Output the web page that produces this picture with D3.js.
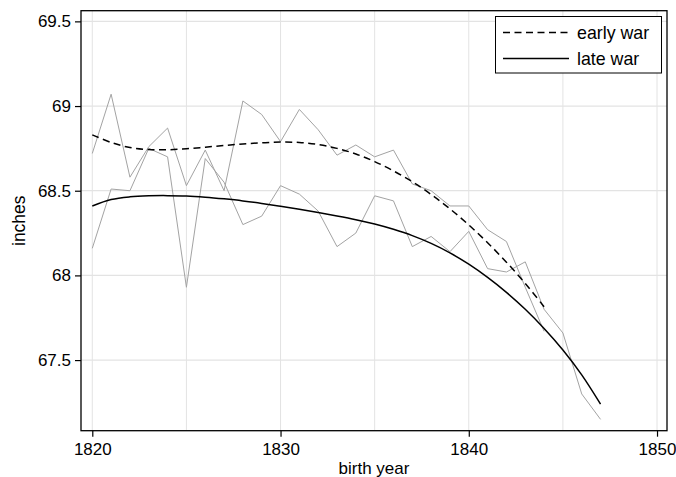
<!DOCTYPE html>
<html>
<head>
<meta charset="utf-8">
<script src="https://cdn.jsdelivr.net/npm/d3@7"></script>
<style>
  body { margin: 0; background: #fff; }
  text { font-family: "Liberation Sans", Arial, sans-serif; }
</style>
</head>
<body>
<div id="chart"></div>
<script>
// raw yearly means
var earlyYears = d3.range(1820, 1845);
var earlyRaw = [68.72, 69.07, 68.58, 68.76, 68.87, 68.53, 68.74, 68.50, 69.03, 68.95,
  68.79, 68.98, 68.86, 68.71, 68.77, 68.70, 68.74, 68.54, 68.50, 68.41,
  68.41, 68.27, 68.20, 67.93, 67.67];
var lateYears = d3.range(1820, 1848);
var lateRaw = [68.16, 68.51, 68.50, 68.75, 68.70, 67.93, 68.69, 68.55, 68.30, 68.35,
  68.53, 68.48, 68.38, 68.17, 68.25, 68.47, 68.44, 68.17, 68.23, 68.14,
  68.26, 68.04, 68.02, 68.08, 67.80, 67.66, 67.30, 67.15];

// smoothed curves
var earlySmooth = [68.83, 68.785, 68.755, 68.743, 68.742, 68.748, 68.757, 68.767, 68.776, 68.783,
  68.787, 68.785, 68.773, 68.75, 68.717, 68.672, 68.617, 68.553, 68.478, 68.393,
  68.298, 68.193, 68.078, 67.953, 67.815];
var lateSmooth = [68.41, 68.448, 68.464, 68.47, 68.471, 68.469, 68.462, 68.452, 68.44, 68.425,
  68.408, 68.39, 68.371, 68.351, 68.329, 68.303, 68.272, 68.235, 68.189, 68.133,
  68.066, 67.988, 67.90, 67.80, 67.687, 67.56, 67.413, 67.24];

var xTicks = [1820, 1830, 1840, 1850];
var xGrid = [1820, 1825, 1830, 1835, 1840, 1845, 1850];
var yTicks = [67.5, 68, 68.5, 69, 69.5];

var svgWidth = 676, svgHeight = 477;
var margin = {top: 10.7, right: 9, bottom: 46.3, left: 81};
var width = svgWidth - margin.left - margin.right;
var height = svgHeight - margin.top - margin.bottom;

var svg = d3.select("#chart").append("svg")
  .attr("width", svgWidth)
  .attr("height", svgHeight);

var g = svg.append("g")
  .attr("transform", `translate(${margin.left},${margin.top})`);

var x = d3.scaleLinear().domain([1819.4, 1850.53]).range([0, width]);
var y = d3.scaleLinear().domain([67.083, 69.563]).range([height, 0]);

// grid
g.selectAll(".vgrid").data(xGrid).join("line")
  .attr("x1", d => x(d)).attr("x2", d => x(d))
  .attr("y1", 0).attr("y2", height)
  .attr("stroke", "#e3e3e3").attr("stroke-width", 1);

g.selectAll(".hgrid").data(yTicks).join("line")
  .attr("x1", 0).attr("x2", width)
  .attr("y1", d => y(d)).attr("y2", d => y(d))
  .attr("stroke", "#e3e3e3").attr("stroke-width", 1.3);

var line = d3.line().x(d => x(d[0])).y(d => y(d[1]));

function pairs(years, vals) {
  return years.map((yr, i) => [yr, vals[i]]);
}

// raw lines
[pairs(earlyYears, earlyRaw), pairs(lateYears, lateRaw)].forEach(data => {
  g.append("path")
    .attr("d", line(data))
    .attr("fill", "none")
    .attr("stroke", "#a3a3a3")
    .attr("stroke-width", 1);
});

var smoothLine = d3.line().curve(d3.curveCatmullRom).x(d => x(d[0])).y(d => y(d[1]));

g.append("path")
  .attr("d", smoothLine(pairs(earlyYears, earlySmooth)))
  .attr("fill", "none")
  .attr("stroke", "#000")
  .attr("stroke-width", 1.5)
  .attr("stroke-dasharray", "7,4.5");

g.append("path")
  .attr("d", smoothLine(pairs(lateYears, lateSmooth)))
  .attr("fill", "none")
  .attr("stroke", "#000")
  .attr("stroke-width", 1.5);

// axes
var bottomAxis = d3.axisBottom(x).tickValues(xTicks).tickFormat(d3.format("d"))
  .tickSizeInner(6).tickSizeOuter(0).tickPadding(6);
var leftAxis = d3.axisLeft(y).tickValues(yTicks).tickFormat(d => d)
  .tickSizeInner(6).tickSizeOuter(0).tickPadding(4);

var xAxisG = g.append("g")
  .attr("transform", `translate(0,${height})`)
  .call(bottomAxis);
var yAxisG = g.append("g").call(leftAxis);

[xAxisG, yAxisG].forEach(a => {
  a.selectAll("text").attr("font-size", 17).attr("fill", "#000")
    .attr("font-family", "'Liberation Sans', Arial, sans-serif");
  a.selectAll("line").attr("stroke", "#000").attr("stroke-width", 1.2);
  a.select(".domain").remove();
});

// frame
g.append("rect")
  .attr("width", width).attr("height", height)
  .attr("fill", "none").attr("stroke", "#000").attr("stroke-width", 1.3);

// axis titles
svg.append("text")
  .attr("x", margin.left + width / 2)
  .attr("y", 474)
  .attr("text-anchor", "middle")
  .attr("font-size", 17)
  .text("birth year");

svg.append("text")
  .attr("transform", `translate(25,${margin.top + height / 2}) rotate(-90)`)
  .attr("text-anchor", "middle")
  .attr("font-size", 17.5)
  .text("inches");

// legend
var legend = svg.append("g");
legend.append("rect")
  .attr("x", 495.5).attr("y", 16.5)
  .attr("width", 166).attr("height", 56.5)
  .attr("fill", "#fff").attr("stroke", "#000").attr("stroke-width", 1);

var legendItems = [
  {label: "early war", dash: "7,4.5", y: 32.5},
  {label: "late war", dash: null, y: 58.5}
];
legendItems.forEach(d => {
  legend.append("line")
    .attr("x1", 503).attr("x2", 569)
    .attr("y1", d.y).attr("y2", d.y)
    .attr("stroke", "#000").attr("stroke-width", 1.5)
    .attr("stroke-dasharray", d.dash);
  legend.append("text")
    .attr("x", 577).attr("y", d.y + 6)
    .attr("font-size", 17.8)
    .text(d.label);
});
</script>
</body>
</html>
